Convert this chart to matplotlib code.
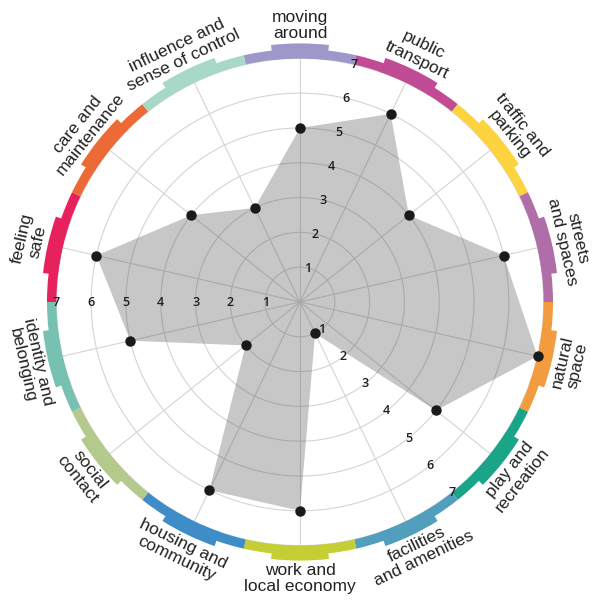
import numpy as np
import matplotlib
matplotlib.use("Agg")
import matplotlib.pyplot as plt

categories = [
    "moving\naround", "public\ntransport", "traffic and\nparking",
    "streets\nand spaces", "natural\nspace", "play and\nrecreation",
    "facilities\nand amenities", "work and\nlocal economy",
    "housing and\ncommunity", "social\ncontact", "identity and\nbelonging",
    "feeling\nsafe", "care and\nmaintenance", "influence and\nsense of control",
]
scores = [5, 6, 4, 6, 7, 5, 1, 6, 6, 2, 5, 6, 4, 3]
band_colors = [
    "#9c98ca", "#c24b95", "#fdd33f", "#b06ea8", "#f39c3f", "#1aa588",
    "#529fbd", "#c5cf34", "#3f8dc8", "#b4c98c", "#76c1b1", "#e6215e",
    "#eb6a36", "#a8d8c7",
]
scale_ticks = [1, 2, 3, 4, 5, 6, 7]

n = len(categories)
step = 2 * np.pi / n
theta = np.arange(n) * step

fig = plt.figure(figsize=(5.97, 6.0), dpi=100)
ax = fig.add_axes([0, -2 / 600, 600 / 597, 1.0], projection="polar")
ax.set_theta_zero_location("N")
ax.set_theta_direction(-1)
ax.set_ylim(0, 8.62)
ax.set_xticks([])
ax.set_yticks([])
ax.grid(False)
ax.spines["polar"].set_visible(False)

# rings and spokes
circ = np.linspace(0, 2 * np.pi, 400)
for k in scale_ticks:
    ax.plot(circ, np.full_like(circ, k), color="#d4d4d4", lw=0.8, zorder=1)
for t in theta:
    ax.plot([t, t], [0, 7], color="#d4d4d4", lw=0.8, zorder=1)

# score polygon
tt = np.append(theta, theta[0])
vv = np.append(scores, scores[0])
ax.fill(tt, vv, color="#555555", alpha=0.33, lw=0, zorder=2)
ax.plot(theta, scores, "o", color="#1a1a1a", ms=6.5, zorder=4)

# outer coloured band
ax.bar(theta, 0.27, width=step, bottom=7.0, color=band_colors, lw=0, zorder=3)
ax.bar(theta, 0.43, width=step * 0.5, bottom=7.0, color=band_colors, lw=0, zorder=3)

# scale numbers on three axes between spokes
for ang in [step / 2, step * 5.5, step * 10.5]:
    for k in scale_ticks:
        ax.text(ang, k, str(k), ha="center", va="center", fontsize=9,
                family="Open Sans", weight="semibold", color="#1e1e1e", zorder=5)

# category labels
for t, lab in zip(theta, categories):
    deg = np.degrees(t)
    if np.cos(t) >= -1e-9:
        rot = -deg
    else:
        rot = 180 - deg
    ax.text(t, 7.95, lab, ha="center", va="center", rotation=rot,
            rotation_mode="anchor", fontsize=12.5, linespacing=1.08,
            family="Liberation Sans", color="#222222", zorder=5)

fig.savefig("out.png", dpi=100)
